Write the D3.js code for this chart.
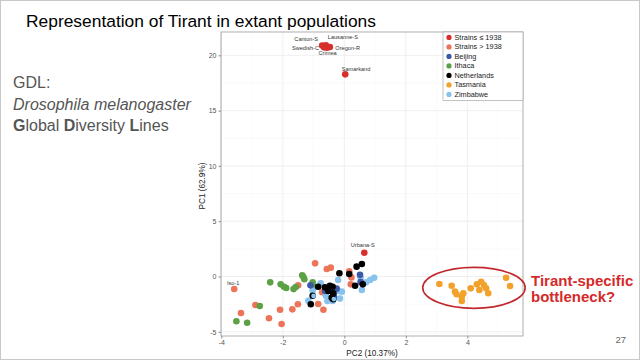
<!DOCTYPE html>
<html>
<head>
<meta charset="utf-8">
<script src="https://cdn.jsdelivr.net/npm/d3@7"></script>
<style>
  html, body { margin: 0; padding: 0; background: #fff; }
  svg { display: block; font-family: "Liberation Sans", Arial, sans-serif; }
</style>
</head>
<body>
<svg id="chart" width="640" height="360"></svg>
<script>
// ---------------- DATA ----------------
const groups = ["Strains \u2264 1938", "Strains > 1938", "Beijing", "Ithaca", "Netherlands", "Tasmania", "Zimbabwe"];

// [PC2, PC1, label]
const strainsOld = [
  [-0.72, 20.88, "Canton-S"], [-0.60, 20.90, "Lausanne-S"], [-0.66, 20.72, "Swedish-C"],
  [-0.47, 20.75, "Oregon-R"], [-0.56, 20.68, "Crimea"], [0.03, 18.28, "Samarkand"],
  [0.65, 2.15, "Urbana-S"]
];
const strainsNew = [
  [-3.58, -1.13, "Iso-1"], [-0.95, 1.19], [-0.57, 0.68], [-0.44, 0.80], [-1.50, -0.80],
  [-2.89, -2.58], [-3.36, -3.30], [-2.09, -3.00], [-1.69, -2.97], [-1.51, -2.51],
  [-2.45, -3.78], [-2.04, -4.29], [-0.85, -2.49], [-0.68, -3.00], [-0.72, -1.42],
  [0.16, 0.47], [0.23, -0.08], [0.21, -0.71]
];
const ithaca = [
  [-2.41, -0.53], [-2.07, -0.71], [-1.96, -0.92], [-1.89, -1.04], [-1.65, -1.14],
  [-1.58, -0.95], [-1.37, 0.12], [-1.33, -0.05], [-1.30, -0.25], [-2.75, -2.67],
  [-3.51, -4.05], [-3.16, -4.18], [-1.03, -0.53], [-0.98, -0.92]
];
const beijing = [
  [-1.10, -0.80], [-0.62, -1.30], [-0.36, -1.50], [-0.25, -1.10], [-0.34, -1.78],
  [0.51, 0.15], [0.53, -0.50]
];
const zimbabwe = [
  [-0.77, -0.62], [-1.17, -2.19], [-1.03, -1.28], [-0.60, -1.74], [-0.55, -2.21],
  [-0.38, -2.21], [-0.20, -0.32], [-0.20, -1.31], [-0.08, -1.37], [-0.14, -2.00],
  [0.53, -0.11], [0.71, -0.53], [0.84, -0.32], [0.97, -0.11], [0.57, -1.22]
];
const netherlands = [
  [-1.03, -1.74], [-1.09, -2.51], [-0.85, -0.92], [-0.63, -0.98], [-0.55, -1.07],
  [-0.47, -0.83], [-0.38, -0.92], [-0.52, -1.31], [-0.36, -1.52], [-0.41, -1.91],
  [-0.36, -2.06], [-0.16, 0.29], [0.16, 0.23], [0.40, 0.89], [0.57, 1.13],
  [0.35, -0.83], [0.60, -0.71]
];
const ringOverlay = [ [-1.00, -1.76], [-0.34, -2.04] ]; // Zimbabwe points sitting on black ones
const tasmania = [
  [3.09, -0.68], [3.49, -0.83], [3.60, -1.37], [3.65, -1.61], [3.82, -1.83],
  [3.87, -1.52], [3.82, -2.21], [4.11, -1.07], [4.31, -0.71], [4.39, -1.22],
  [4.45, -0.47], [4.54, -0.77], [4.61, -1.07], [4.68, -1.52], [5.26, -0.11],
  [5.39, -0.86]
];
const xTicks = [-4, -2, 0, 2, 4];
const yTicks = [-5, 0, 5, 10, 15, 20];
const xTitle = "PC2 (10.37%)";
const yTitle = "PC1 (62.9%)";
const bottleneckEllipse = { x0: 2.55, x1: 5.88, y0: -2.88, y1: 0.83 };

// ---------------- LAYOUT ----------------
const colors = {
  "Strains \u2264 1938": "#d7302c", "Strains > 1938": "#ec7559", "Beijing": "#3b59a6",
  "Ithaca": "#5ca146", "Netherlands": "#000000", "Tasmania": "#f2a22a", "Zimbabwe": "#88c3ee"
};
const panel = { left: 221, right: 523, top: 32, bottom: 336 };
const svg = d3.select("#chart");

// slide frame
svg.append("rect").attr("x", 0.5).attr("y", 0.5).attr("width", 639).attr("height", 359)
  .attr("fill", "#fff").attr("stroke", "#c8c8c8");

// title & side texts
svg.append("text").attr("x", 26).attr("y", 26.5).attr("font-size", 17.4).attr("fill", "#000")
  .text("Representation of Tirant in extant populations");

const side = svg.append("g").attr("fill", "#555").attr("font-size", 16);
side.append("text").attr("x", 13).attr("y", 87.5).text("GDL:");
side.append("text").attr("x", 13).attr("y", 110).attr("font-style", "italic").text("Drosophila melanogaster");
const gl = side.append("text").attr("x", 13).attr("y", 130.5);
[["G", true], ["lobal ", false], ["D", true], ["iversity ", false], ["L", true], ["ines", false]]
  .forEach(([t, b]) => gl.append("tspan").attr("font-weight", b ? "bold" : "normal").text(t));

const red = svg.append("g").attr("fill", "#d42a2a").attr("font-size", 15).attr("font-weight", "bold");
red.append("text").attr("x", 531).attr("y", 286).text("Tirant-specific");
red.append("text").attr("x", 531).attr("y", 301.5).text("bottleneck?");

svg.append("text").attr("x", 626).attr("y", 343).attr("text-anchor", "end")
  .attr("font-size", 9.5).attr("fill", "#666").text("27");

// ---------------- SCALES ----------------
const x = d3.scaleLinear().domain([-4.01, 5.81]).range([panel.left, panel.right]);
const y = d3.scaleLinear().domain([-5.38, 22.11]).range([panel.bottom, panel.top]);

// panel
const pw = panel.right - panel.left, ph = panel.bottom - panel.top;
svg.append("rect").attr("x", panel.left).attr("y", panel.top).attr("width", pw).attr("height", ph)
  .attr("fill", "#fff");

const minorX = [-3, -1, 1, 3, 5];
const minorY = [-2.5, 2.5, 7.5, 12.5, 17.5];
const grid = svg.append("g");
grid.selectAll(".mx").data(minorX).join("line")
  .attr("x1", d => x(d)).attr("x2", d => x(d)).attr("y1", panel.top).attr("y2", panel.bottom)
  .attr("stroke", "#f4f4f4").attr("stroke-width", 0.5);
grid.selectAll(".my").data(minorY).join("line")
  .attr("y1", d => y(d)).attr("y2", d => y(d)).attr("x1", panel.left).attr("x2", panel.right)
  .attr("stroke", "#f4f4f4").attr("stroke-width", 0.5);
grid.selectAll(".gx").data(xTicks).join("line")
  .attr("x1", d => x(d)).attr("x2", d => x(d)).attr("y1", panel.top).attr("y2", panel.bottom)
  .attr("stroke", "#ebebeb").attr("stroke-width", 0.8);
grid.selectAll(".gy").data(yTicks).join("line")
  .attr("y1", d => y(d)).attr("y2", d => y(d)).attr("x1", panel.left).attr("x2", panel.right)
  .attr("stroke", "#ebebeb").attr("stroke-width", 0.8);

// axes
const xAxis = svg.append("g").attr("transform", `translate(0,${panel.bottom})`)
  .call(d3.axisBottom(x).tickValues(xTicks).tickSize(2.5).tickPadding(2).tickFormat(d3.format("d")));
const yAxis = svg.append("g").attr("transform", `translate(${panel.left},0)`)
  .call(d3.axisLeft(y).tickValues(yTicks).tickSize(2.5).tickPadding(2).tickFormat(d3.format("d")));
[xAxis, yAxis].forEach(a => {
  a.select(".domain").remove();
  a.selectAll(".tick line").attr("stroke", "#444").attr("stroke-width", 0.6);
  a.selectAll(".tick text").attr("fill", "#555").attr("font-size", 7)
    .attr("font-family", "Liberation Sans, Arial, sans-serif");
});
xAxis.selectAll(".tick text").text(d => d < 0 ? "-" + Math.abs(d) : d);
yAxis.selectAll(".tick text").text(d => d < 0 ? "-" + Math.abs(d) : d);

svg.append("text").attr("x", (panel.left + panel.right) / 2).attr("y", 355.5)
  .attr("text-anchor", "middle").attr("font-size", 8.2).attr("fill", "#222").text(xTitle);
svg.append("text").attr("transform", `translate(204.5,${(panel.top + panel.bottom) / 2 + 2}) rotate(-90)`)
  .attr("text-anchor", "middle").attr("font-size", 8.2).attr("fill", "#222").text(yTitle);

// points
const R = 3.3;
const layers = [
  [strainsNew, "Strains > 1938"], [ithaca, "Ithaca"], [zimbabwe, "Zimbabwe"], [beijing, "Beijing"],
  [netherlands, "Netherlands"], [ringOverlay, "Zimbabwe"], [tasmania, "Tasmania"], [strainsOld, "Strains \u2264 1938"]
];
const pts = svg.append("g");
layers.forEach(([arr, g]) => {
  pts.append("g").selectAll("circle").data(arr).join("circle")
    .attr("cx", d => x(d[0])).attr("cy", d => y(d[1])).attr("r", arr === ringOverlay ? 2.4 : R)
    .attr("fill", colors[g]);
});

// labels (repelled positions, offsets in px)
const labelOffsets = {
  "Canton-S": [-16, -5, "middle"], "Lausanne-S": [17, -6, "middle"], "Swedish-C": [-5, 3, "end"],
  "Oregon-R": [5.5, 2.5, "start"], "Crimea": [0.5, 7, "middle"], "Samarkand": [-3.5, -3, "start"],
  "Urbana-S": [-1.5, -5.5, "middle"], "Iso-1": [-1, -4.5, "middle"]
};
const labeled = strainsOld.concat(strainsNew).filter(d => d[2]);
svg.append("g").selectAll("text").data(labeled).join("text")
  .attr("x", d => x(d[0]) + labelOffsets[d[2]][0]).attr("y", d => y(d[1]) + labelOffsets[d[2]][1])
  .attr("text-anchor", d => labelOffsets[d[2]][2])
  .attr("font-size", 5.6).attr("fill", "#333").text(d => d[2]);

// panel border
svg.append("rect").attr("x", panel.left).attr("y", panel.top).attr("width", pw).attr("height", ph)
  .attr("fill", "none").attr("stroke", "#8c8c8c").attr("stroke-width", 0.7);

// legend
const lg = svg.append("g");
lg.append("rect").attr("x", 443).attr("y", 32).attr("width", 80).attr("height", 68.5)
  .attr("fill", "#fff").attr("stroke", "#999").attr("stroke-width", 0.6);
groups.forEach((g, i) => {
  const yy = 37.4 + i * 9.5;
  lg.append("circle").attr("cx", 449).attr("cy", yy).attr("r", 2.6).attr("fill", colors[g]);
  lg.append("text").attr("x", 454.5).attr("y", yy).attr("dy", "0.35em")
    .attr("font-size", 7.3).attr("fill", "#222").text(g);
});

// annotation ellipse
const e = bottleneckEllipse;
svg.append("ellipse")
  .attr("cx", (x(e.x0) + x(e.x1)) / 2).attr("cy", (y(e.y0) + y(e.y1)) / 2)
  .attr("rx", (x(e.x1) - x(e.x0)) / 2).attr("ry", (y(e.y0) - y(e.y1)) / 2)
  .attr("fill", "none").attr("stroke", "#c0282d").attr("stroke-width", 1.6);
</script>
</body>
</html>
